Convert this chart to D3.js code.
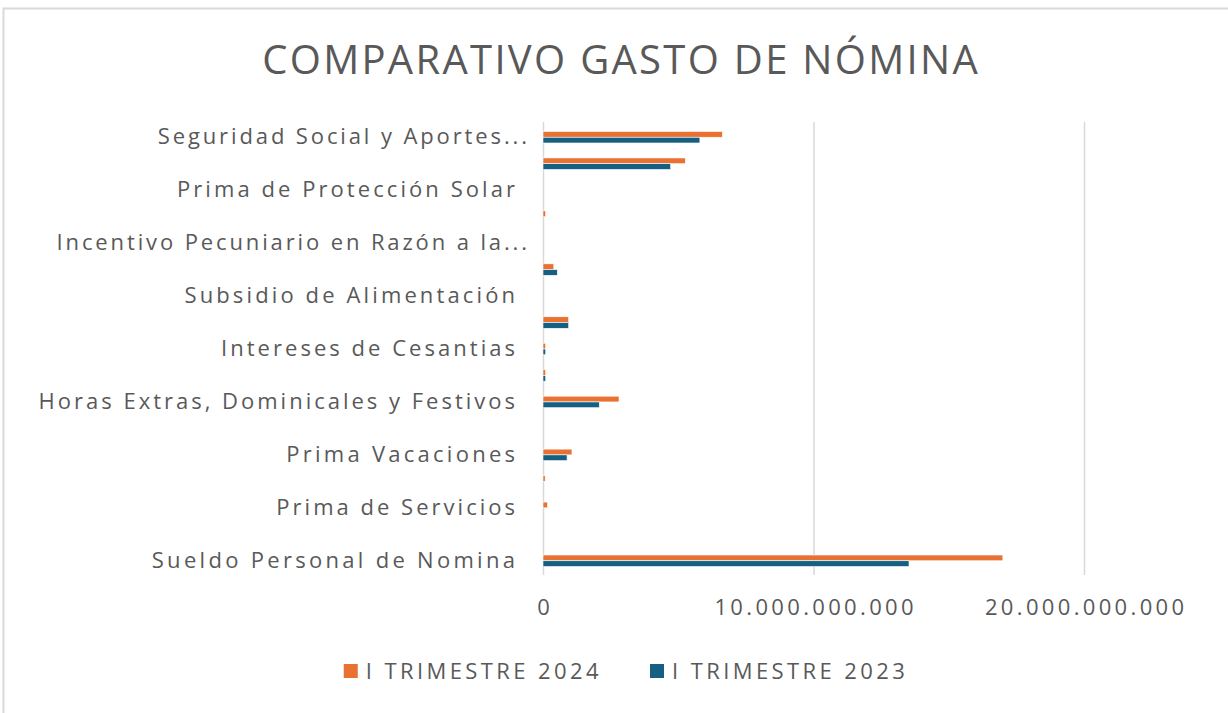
<!DOCTYPE html>
<html>
<head>
<meta charset="utf-8">
<script src="https://cdn.jsdelivr.net/npm/d3@7"></script>
<style>
    body { margin: 0; background: #ffffff; }
    text { font-family: "Open Sans", "Liberation Sans", sans-serif; fill: #595959; }
    .grid-line { stroke: #d9d9d9; stroke-width: 1.5; }
</style>
</head>
<body>
<script>
// set the dimensions and margins of the graph
var height = 713
var width = 1228
var margin = { top: 124, left: 543, right: 141, bottom: 139 }

// categories, bottom to top as in the spreadsheet
const categories = [
    'Sueldo Personal de Nomina',
    'Prima de Navidad',
    'Prima de Servicios',
    'Bonificación Especial de Recreación',
    'Prima Vacaciones',
    'Indemnización por Vacaciones',
    'Horas Extras, Dominicales y Festivos',
    'Auxilio de Transporte',
    'Intereses de Cesantias',
    'Cesantías',
    'Subsidio de Alimentación',
    'Bonificación por Servicios Prestados',
    'Incentivo Pecuniario en Razón a la Productividad',
    'Auxilio de Conectividad',
    'Prima de Protección Solar',
    'Remuneración Servicios Técnicos',
    'Seguridad Social y Aportes Parafiscales'
]

const series = ['I TRIMESTRE 2024', 'I TRIMESTRE 2023']
const colors = ['#e97132', '#156082']

const values2024 = [
    17000000000, 0, 170000000, 80000000, 1070000000, 0, 2810000000, 100000000, 100000000,
    950000000, 0, 400000000, 0, 100000000, 0, 5260000000, 6630000000
]
const values2023 = [
    13530000000, 0, 0, 0, 890000000, 0, 2080000000, 100000000, 100000000,
    950000000, 0, 530000000, 0, 0, 0, 4720000000, 5800000000
]

const xTicks = [0, 10000000000, 20000000000]
const title = 'COMPARATIVO GASTO DE NÓMINA'

var yScale, xScale, subScale

var locale = d3.formatLocale({ decimal: ",", thousands: ".", grouping: [3], currency: ["$", ""] })
var fmt = locale.format(",")

var svg = d3.select("body").append("svg")
    .attr("width", width)
    .attr("height", height);

// the original font is wider than Open Sans: open the tracking up to match
function widen(sel, factor, anchor) {
    sel.each(function () {
        var t = d3.select(this);
        var n = t.text().length;
        if (!n) return;
        var sp = (factor - 1) * this.getComputedTextLength() / n;
        t.style("letter-spacing", sp + "px");
        if (anchor === "end") t.attr("dx", (+t.attr("dx") || 0) + sp);
        if (anchor === "middle") t.attr("dx", (+t.attr("dx") || 0) + sp / 2);
    });
}

function renderFrame() {
    svg.append("rect")
        .attr("x", 3.5)
        .attr("y", 8.5)
        .attr("width", width + 20)
        .attr("height", height + 20)
        .style("fill", "#ffffff")
        .style("stroke", "#d9d9d9")
        .style("stroke-width", 2);

    svg.append("text")
        .attr("x", 620)
        .attr("y", 74)
        .attr("text-anchor", "middle")
        .style("font-size", "40px")
        .text(title)
        .call(widen, 1.095, "middle");
}

function renderXAxis() {
    xScale = d3.scaleLinear()
        .domain([0, 20000000000])
        .range([0, quadrantWidth()]);

    var xAxis = d3.axisBottom()
        .scale(xScale)
        .tickValues(xTicks)
        .tickSize(0)
        .tickPadding(25)
        .tickFormat(fmt);

    var g = svg.append("g")
        .attr("class", "x-axis")
        .attr("transform", "translate(" + xStart() + "," + yStart() + ")")
        .call(xAxis);

    g.select(".domain").remove();
    g.selectAll("text")
        .style("font-size", "22px")
        .call(widen, 1.3, "middle");

    g.selectAll("g.tick")
        .append("line")
        .classed("grid-line", true)
        .attr("x1", 0)
        .attr("y1", 1)
        .attr("x2", 0)
        .attr("y2", - quadrantHeight() - 2);
}

function renderYAxis() {
    var factor = 1.29;

    yScale = d3.scaleBand()
        .domain(categories)
        .range([quadrantHeight(), 0])
        .paddingInner(0.565)
        .paddingOuter(0.2825);

    subScale = d3.scaleBand()
        .domain(series)
        .range([0, yScale.bandwidth()]);

    var yAxis = d3.axisLeft()
        .scale(yScale)
        .tickSize(0)
        .tickPadding(28)
        .tickFormat(function (d, i) { return i % 2 === 0 ? d : ""; });

    var g = svg.append("g")
        .attr("class", "y-axis")
        .attr("transform", "translate(" + xStart() + "," + yEnd() + ")")
        .call(yAxis);

    g.select(".domain").remove();
    g.selectAll("text")
        .style("font-size", "22px")
        .each(function () {
            // shorten long labels the way the spreadsheet does
            var t = d3.select(this);
            if (this.getComputedTextLength() * factor <= 490) return;
            var words = t.text().split(" ");
            while (words.length > 1) {
                words.pop();
                t.text(words.join(" ") + "...");
                if (this.getComputedTextLength() * factor <= 475) break;
            }
            t.attr("dx", 12);
        })
        .call(widen, factor, "end");
}

function renderBars() {
    var groups = svg.append("g")
        .attr("transform", "translate(" + xStart() + "," + yEnd() + ")")
        .selectAll("g")
        .data(categories)
        .enter()
        .append("g")
        .attr("transform", (d) => "translate(0," + yScale(d) + ")");

    groups.selectAll("rect")
        .data((d, i) => [
            { s: series[0], v: values2024[i], c: colors[0] },
            { s: series[1], v: values2023[i], c: colors[1] }
        ])
        .enter()
        .append("rect")
        .attr("x", 0)
        .attr("y", (d) => subScale(d.s))
        .attr("width", (d) => xScale(d.v))
        .attr("height", subScale.bandwidth())
        .style("fill", (d) => d.c)
        .style("stroke", (d) => d.v > 0 ? "#ffffff" : "none")
        .style("stroke-width", 0.6);
}

function renderLegend() {
    var legend = svg.append("g").attr("class", "legend");
    var x = 0;
    series.forEach(function (s, i) {
        var item = legend.append("g").attr("transform", "translate(" + x + ",0)");
        item.append("rect")
            .attr("x", 0)
            .attr("y", -7)
            .attr("width", 14)
            .attr("height", 14)
            .style("fill", colors[i]);
        var t = item.append("text")
            .attr("x", 22)
            .attr("y", 8)
            .style("font-size", "22px")
            .text(s)
            .call(widen, 1.3, "start");
        x += 22 + t.node().getComputedTextLength() + 48;
    });
    var w = legend.node().getBBox().width;
    legend.attr("transform", "translate(" + (626 - w / 2) + ",671)");
}

function xStart() {
    return margin.left;
}

function yStart() {
    return height - margin.bottom;
}

function yEnd() {
    return margin.top;
}

function quadrantWidth() {
    return width - margin.left - margin.right - 3;
}

function quadrantHeight() {
    return height - margin.top - margin.bottom;
}

renderFrame();
renderYAxis();
renderXAxis();
renderBars();
renderLegend();
</script>
</body>
</html>
